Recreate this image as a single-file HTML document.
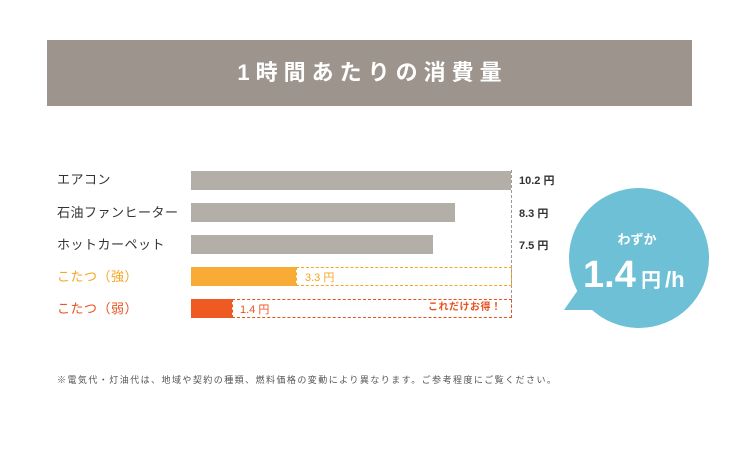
<!DOCTYPE html>
<html><head><meta charset="utf-8"><style>
body{margin:0;width:740px;height:460px;background:#fff;position:relative;overflow:hidden;font-family:"Liberation Sans","Noto Sans CJK JP",sans-serif}
.hd{position:absolute;left:47px;top:40px;width:645px;height:66px;background:#9d958d;color:#fff;font-size:22px;font-weight:bold;letter-spacing:6px;text-indent:6px;text-align:center;line-height:66px}
.lb{position:absolute;left:57px;font-size:13px;letter-spacing:0.5px;color:#333;line-height:20px}
.bar{position:absolute;left:191px;height:19px}
.val{position:absolute;left:519px;font-size:11px;color:#333;font-weight:bold;line-height:20px}
.db{position:absolute;height:17px;border:1px dashed}
.note{position:absolute;left:57px;top:373px;font-size:9px;letter-spacing:1.45px;color:#555}
</style></head><body>
<div class="hd">1時間あたりの消費量</div>
<div class="lb" style="top:170px">エアコン</div>
<div class="lb" style="top:203px">石油ファンヒーター</div>
<div class="lb" style="top:235px">ホットカーペット</div>
<div class="lb" style="top:267px;color:#f5a623">こたつ（強）</div>
<div class="lb" style="top:299px;color:#e8521e">こたつ（弱）</div>
<div style="position:absolute;left:511px;top:170px;height:148px;border-left:1px dashed #999"></div>
<div class="bar" style="top:171px;width:320px;background:#b3afa8"></div>
<div class="bar" style="top:203px;width:264px;background:#b3afa8"></div>
<div class="bar" style="top:235px;width:242px;background:#b3afa8"></div>
<div class="db" style="left:296px;top:267px;width:214px;border-color:#f5a623"></div>
<div class="bar" style="top:267px;width:105px;background:#f8ab35"></div>
<div class="db" style="left:232px;top:299px;width:278px;border-color:#e8521e"></div>
<div class="bar" style="top:299px;width:41px;background:#ef5a22"></div>
<div class="val" style="top:171px">10.2 円</div>
<div class="val" style="top:204px">8.3 円</div>
<div class="val" style="top:236px">7.5 円</div>
<div class="val" style="top:268px;left:305px;color:#f5a623;font-weight:normal">3.3 円</div>
<div class="val" style="top:300px;left:240px;color:#e8521e;font-weight:normal">1.4 円</div>
<div class="val" style="top:298px;left:428px;color:#e8521e;font-weight:bold;font-size:10px;letter-spacing:0.5px">これだけお得！</div>
<svg style="position:absolute;left:0;top:0" width="740" height="460">
<circle cx="639" cy="258" r="70" fill="#6ec0d6"/>
<polygon points="564,310 585,280 600,310" fill="#6ec0d6"/>
<text x="637" y="244" font-size="13" fill="#fff" text-anchor="middle" font-weight="bold" font-family="Liberation Sans,Noto Sans CJK JP,sans-serif">わずか</text>
<text x="583" y="287" font-size="38" fill="#fff" font-weight="bold" font-family="Liberation Sans,sans-serif">1.4</text>
<text x="641" y="287" font-size="20" fill="#fff" font-weight="bold" font-family="Liberation Sans,Noto Sans CJK JP,sans-serif">円</text>
<text x="665" y="287" font-size="22" fill="#fff" font-weight="bold" font-family="Liberation Sans,sans-serif">/h</text>
</svg>
<div class="note">※電気代・灯油代は、地域や契約の種類、燃料価格の変動により異なります。ご参考程度にご覧ください。</div>
</body></html>
